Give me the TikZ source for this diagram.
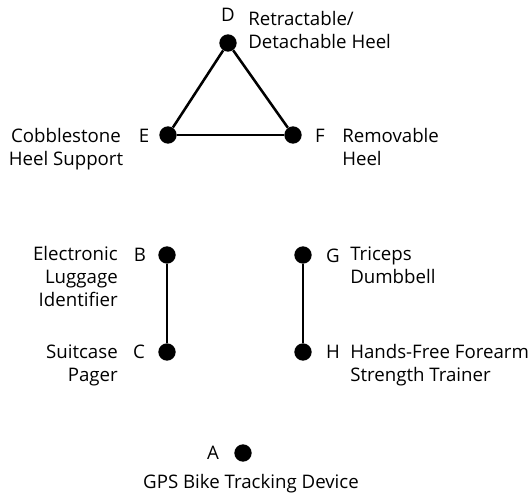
\documentclass[tikz,border=0pt]{standalone}
\usepackage{fontspec}
\setmainfont{Open Sans}
\tikzstyle{idea}=[circle,fill=black,inner sep=0pt,minimum size=13pt]
\tikzstyle{link}=[line width=1.9pt]
\tikzstyle{letter}=[anchor=base,inner sep=0pt]
\tikzstyle{caption}=[inner sep=0pt]

\begin{document}
\begin{tikzpicture}[x=0.75pt,y=-0.75pt,font=\fontsize{14}{17.2}\selectfont]
\useasboundingbox (0,0) rectangle (532,495);
% the ideas
\foreach \name/\x/\y in {A/243/453,B/167/255,C/167/352,D/228/43,E/168/135,F/293/135,G/303/255,H/303/352}
  \node[idea] (\name) at (\x,\y) {};
% links between ideas
\draw[link] (D) -- (E);
\draw[link] (E) -- (F);
\draw[link] (F) -- (D);
\draw[link] (B) -- (C);
\draw[link] (G) -- (H);
% letters
\foreach \name/\x/\y in {A/213/453,B/140/255,C/139/352,D/228/15,E/144/136,F/320/136,G/333/256,H/333/352}
  \node[letter] (l\name) at (\x,\y+6.5) {\name};
% captions (base = last line)
\node[caption,anchor=base west,align=left] (tD) at (248,48.5) {Retractable/\\Detachable Heel};
\node[caption,anchor=base,align=center] (tE) at (66,165.5) {Cobblestone\\Heel Support};
\node[caption,anchor=base west,align=left] (tF) at (342,165.5) {Removable\\Heel};
\node[caption,anchor=base east,align=right] (tB) at (118,306.5) {Electronic\\Luggage\\Identifier};
\node[caption,anchor=base east,align=right] (tC) at (118,381.5) {Suitcase\\Pager};
\node[caption,anchor=base west,align=left] (tG) at (350,283.5) {Triceps\\Dumbbell};
\node[caption,anchor=base west,align=left] (tH) at (350,381.5) {Hands-Free Forearm\\Strength Trainer};
\node[caption,anchor=base] (tA) at (251,488.5) {GPS Bike Tracking Device};
\end{tikzpicture}
\end{document}
